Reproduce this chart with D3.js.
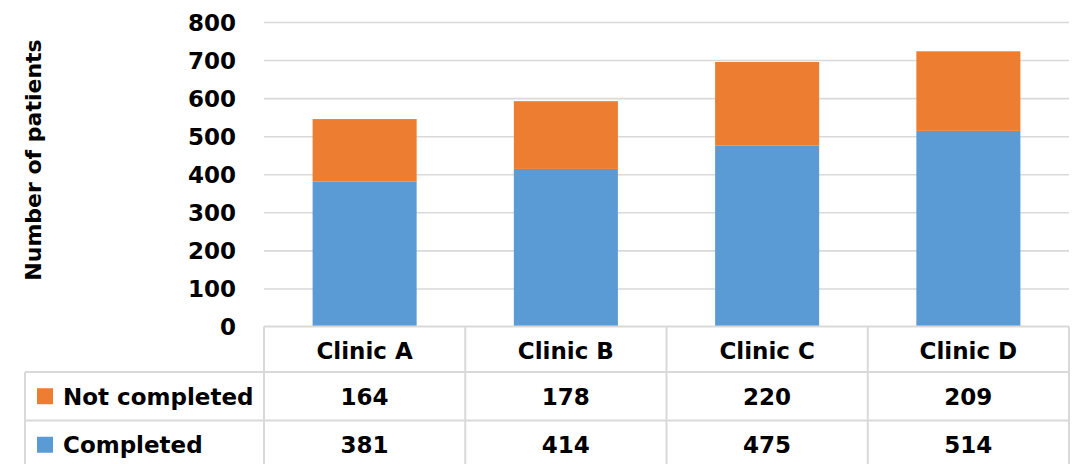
<!DOCTYPE html>
<html>
<head>
<meta charset="utf-8">
<script src="https://cdn.jsdelivr.net/npm/d3@7"></script>
<style>
  html, body { margin: 0; padding: 0; background: #fff; }
  svg { display: block; font-family: "DejaVu Sans", sans-serif; }
</style>
</head>
<body>
<svg id="chart" width="1079" height="464"></svg>
<script>
// Patients per clinic, split by completion status
const categories = ["Clinic A", "Clinic B", "Clinic C", "Clinic D"];
const completed = [381, 414, 475, 514];
const notCompleted = [164, 178, 220, 209];
const seriesNames = ["Completed", "Not completed"];
const seriesColors = ["#5B9BD5", "#ED7D31"];
const yTicks = [0, 100, 200, 300, 400, 500, 600, 700, 800];

const rows = categories.map((c, i) => ({
  category: c,
  "Completed": completed[i],
  "Not completed": notCompleted[i]
}));

const svg = d3.select("#chart");
const plot = { left: 264, right: 1069, top: 22, bottom: 326.5 };
const gridColor = "#d9d9d9";

const x = d3.scaleBand()
  .domain(categories)
  .range([plot.left, plot.right])
  .paddingInner(0.483)
  .paddingOuter(0.2415);

const y = d3.scaleLinear()
  .domain([0, 800])
  .range([plot.bottom, plot.top]);

// Value axis with gridlines
const yAxis = d3.axisLeft(y)
  .tickValues(yTicks)
  .tickSize(-(plot.right - plot.left))
  .tickPadding(28)
  .tickFormat(d3.format("d"));

const gy = svg.append("g")
  .attr("transform", `translate(${plot.left},0)`)
  .call(yAxis);
gy.select(".domain").remove();
gy.selectAll(".tick line")
  .attr("stroke", gridColor)
  .attr("stroke-width", 1.6)
  .filter(d => d === 0).remove();
gy.selectAll(".tick text")
  .attr("fill", "#000")
  .attr("font-family", "DejaVu Sans")
  .attr("font-weight", "bold")
  .attr("font-size", 23)
  .attr("dy", "0.36em");

// Axis title
svg.append("text")
  .attr("transform", "translate(33,160) rotate(-90)")
  .attr("text-anchor", "middle")
  .attr("dy", "0.36em")
  .attr("font-size", 22)
  .attr("font-weight", "bold")
  .attr("fill", "#000")
  .text("Number of patients");

// Stacked bars
const stack = d3.stack().keys(seriesNames);
const stacked = stack(rows);
const color = d3.scaleOrdinal().domain(seriesNames).range(seriesColors);

svg.append("g").selectAll("g")
  .data(stacked)
  .join("g")
  .attr("fill", d => color(d.key))
  .selectAll("rect")
  .data(d => d)
  .join("rect")
  .attr("x", d => x(d.data.category))
  .attr("width", x.bandwidth())
  .attr("y", d => y(d[1]))
  .attr("height", d => y(d[0]) - y(d[1]));

// Data table below the plot
const rowEdges = [326.5, 372, 420.5, 469];
const legendLeft = 25;
const step = x.step();
const colEdges = d3.range(categories.length + 1).map(i => plot.left + i * step);
const tableRows = [
  { name: "Not completed", values: notCompleted },
  { name: "Completed", values: completed }
];

const table = svg.append("g")
  .attr("stroke", gridColor)
  .attr("stroke-width", 2)
  .attr("fill", "none");

// header row top border and column separators
table.append("line")
  .attr("x1", plot.left).attr("x2", plot.right)
  .attr("y1", rowEdges[0]).attr("y2", rowEdges[0]);
colEdges.forEach(cx => {
  table.append("line")
    .attr("x1", cx).attr("x2", cx)
    .attr("y1", rowEdges[0]).attr("y2", rowEdges[3]);
});
// series rows span the legend column too
[rowEdges[1], rowEdges[2], rowEdges[3]].forEach(ry => {
  table.append("line")
    .attr("x1", legendLeft).attr("x2", plot.right)
    .attr("y1", ry).attr("y2", ry);
});
table.append("line")
  .attr("x1", legendLeft).attr("x2", legendLeft)
  .attr("y1", rowEdges[1]).attr("y2", rowEdges[3]);

const textG = svg.append("g")
  .attr("font-family", "DejaVu Sans")
  .attr("font-weight", "bold")
  .attr("font-size", 23)
  .attr("fill", "#000");

// category header
textG.selectAll("text.cat")
  .data(categories)
  .join("text")
  .attr("class", "cat")
  .attr("x", d => x(d) + x.bandwidth() / 2)
  .attr("y", (rowEdges[0] + rowEdges[1]) / 2 + 1)
  .attr("dy", "0.36em")
  .attr("text-anchor", "middle")
  .text(d => d);

tableRows.forEach((r, ri) => {
  const cy = (rowEdges[ri + 1] + rowEdges[ri + 2]) / 2;
  svg.append("rect")
    .attr("x", 37).attr("y", cy - 8)
    .attr("width", 16).attr("height", 16)
    .attr("fill", color(r.name));
  textG.append("text")
    .attr("x", 63).attr("y", cy)
    .attr("dy", "0.36em")
    .text(r.name);
  textG.selectAll(null)
    .data(r.values)
    .join("text")
    .attr("x", (d, i) => x(categories[i]) + x.bandwidth() / 2)
    .attr("y", cy)
    .attr("dy", "0.36em")
    .attr("text-anchor", "middle")
    .text(d => d);
});
</script>
</body>
</html>
